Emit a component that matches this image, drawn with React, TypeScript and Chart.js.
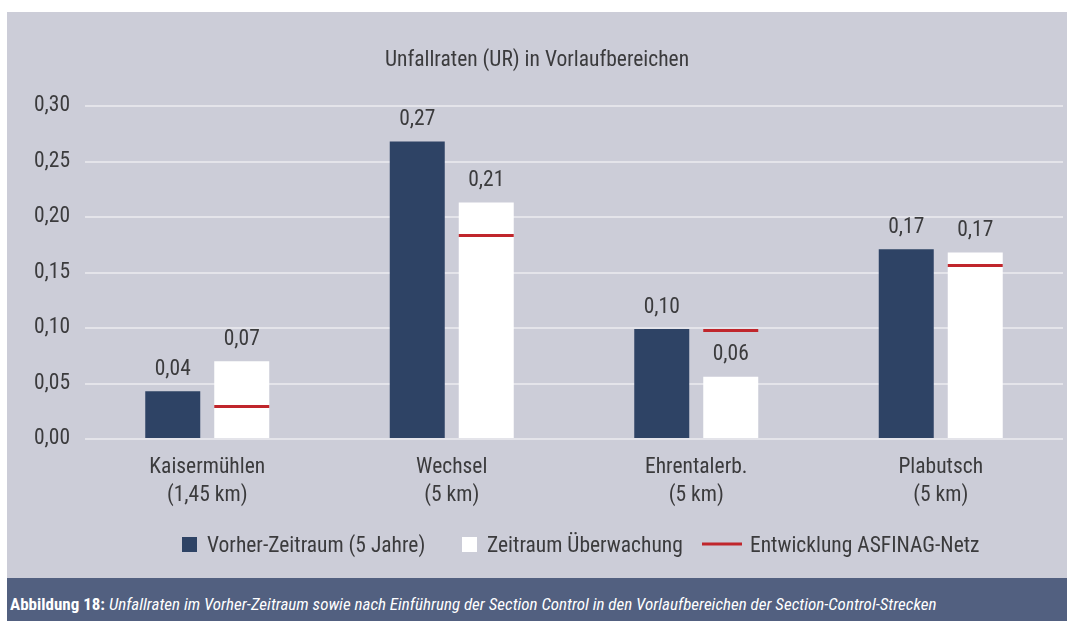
import React, { useEffect, useRef } from "react";
import { Chart, registerables } from "chart.js";

Chart.register(...registerables);

// ---- data ----
const categories: string[][] = [
  ["Kaisermühlen", "(1,45 km)"],
  ["Wechsel", "(5 km)"],
  ["Ehrentalerb.", "(5 km)"],
  ["Plabutsch", "(5 km)"],
];
const vorherZeitraum = [0.043, 0.268, 0.099, 0.171];
const zeitraumUeberwachung = [0.07, 0.213, 0.056, 0.168];
const entwicklungAsfinag = [0.03, 0.184, 0.098, 0.157];
const seriesNames = [
  "Vorher-Zeitraum (5 Jahre)",
  "Zeitraum Überwachung",
  "Entwicklung ASFINAG-Netz",
];
const yMin = 0;
const yMax = 0.3;
const yStep = 0.05;
const chartTitle = "Unfallraten (UR) in Vorlaufbereichen";
const captionBold = "Abbildung 18:";
const captionText =
  " Unfallraten im Vorher-Zeitraum sowie nach Einführung der Section Control in den Vorlaufbereichen der Section-Control-Strecken";

// ---- style ----
const FONT = "'Roboto Condensed', 'DejaVu Sans Condensed', sans-serif";
const FS = 21.5;
const TEXT = "#3b3b3d";
const DARK = "#2e4365";
const WHITE = "#ffffff";
const RED = "#c0262c";
const PANEL = "#cccdd8";
const BAND = "#526080";
const GRID = "#e4e4ea";

const fmt = (v: number) => v.toFixed(2).replace(".", ",");

const overlayPlugin = {
  id: "overlay",
  afterDatasetsDraw(chart: any) {
    const ctx = chart.ctx;
    const yScale = chart.scales.y;
    // red reference lines on the white bars
    const metaW = chart.getDatasetMeta(1);
    ctx.save();
    ctx.strokeStyle = RED;
    ctx.lineWidth = 3;
    metaW.data.forEach((bar: any, i: number) => {
      const y = Math.round(yScale.getPixelForValue(entwicklungAsfinag[i])) + 0.5;
      ctx.beginPath();
      ctx.moveTo(bar.x - bar.width / 2, y);
      ctx.lineTo(bar.x + bar.width / 2, y);
      ctx.stroke();
    });
    // value labels
    ctx.fillStyle = TEXT;
    ctx.font = `${FS}px ${FONT}`;
    ctx.textAlign = "center";
    ctx.textBaseline = "alphabetic";
    [0, 1].forEach((di) => {
      const meta = chart.getDatasetMeta(di);
      const vals = chart.data.datasets[di].data as number[];
      meta.data.forEach((bar: any, i: number) => {
        ctx.fillText(fmt(vals[i]), bar.x, bar.y - 16.5);
      });
    });
    ctx.restore();
  },
  afterDraw(chart: any) {
    const ctx = chart.ctx;
    const w = chart.width;
    ctx.save();
    // title
    ctx.fillStyle = TEXT;
    ctx.font = `${FS}px ${FONT}`;
    ctx.textAlign = "center";
    ctx.textBaseline = "alphabetic";
    ctx.fillText(chartTitle, w / 2, 54);
    // legend
    const baseY = 540;
    const items = [
      { x: 175, kind: "box", color: DARK },
      { x: 455, kind: "box", color: WHITE },
      { x: 695, kind: "line", color: RED },
    ];
    ctx.textAlign = "left";
    items.forEach((it, i) => {
      let tx;
      if (it.kind === "box") {
        ctx.fillStyle = it.color;
        ctx.fillRect(it.x, 525, 15, 15);
        tx = it.x + 25;
      } else {
        ctx.strokeStyle = it.color;
        ctx.lineWidth = 3;
        ctx.beginPath();
        ctx.moveTo(it.x, 532);
        ctx.lineTo(it.x + 40, 532);
        ctx.stroke();
        tx = it.x + 48;
      }
      ctx.fillStyle = TEXT;
      ctx.fillText(seriesNames[i], tx, baseY);
    });
    ctx.restore();
  },
};

export default function App() {
  const ref = useRef<HTMLCanvasElement | null>(null);

  useEffect(() => {
    if (!ref.current) return;
    const chart = new Chart(ref.current, {
      type: "bar",
      data: {
        labels: categories,
        datasets: [
          {
            label: seriesNames[0],
            data: vorherZeitraum,
            backgroundColor: DARK,
            borderWidth: 0,
            categoryPercentage: 0.5644,
            barPercentage: 0.797,
          },
          {
            label: seriesNames[1],
            data: zeitraumUeberwachung,
            backgroundColor: WHITE,
            borderWidth: 0,
            categoryPercentage: 0.5644,
            barPercentage: 0.797,
          },
        ],
      },
      options: {
        responsive: false,
        animation: false,
        devicePixelRatio: 1,
        layout: { padding: { top: 94, right: 4, left: 0, bottom: 0 } },
        plugins: {
          legend: { display: false },
          title: { display: false },
          tooltip: { enabled: false },
        },
        scales: {
          x: {
            grid: { display: false, drawTicks: false },
            border: { display: false },
            ticks: {
              color: TEXT,
              font: { family: FONT, size: FS, lineHeight: 1.3 },
              padding: 15,
              maxRotation: 0,
              autoSkip: false,
            },
            afterFit(scale: any) {
              scale.height = 139;
            },
          },
          y: {
            min: yMin,
            max: yMax,
            grid: { color: GRID, lineWidth: 2, drawTicks: false },
            border: { display: false },
            ticks: {
              stepSize: yStep,
              color: TEXT,
              font: { family: FONT, size: FS },
              padding: 15,
              callback: (v: any) => fmt(Number(v)),
            },
            afterFit(scale: any) {
              scale.width = 78;
            },
          },
        },
      },
      plugins: [overlayPlugin],
    } as any);
    return () => chart.destroy();
  }, []);

  return (
    <div style={{ position: "absolute", left: 0, top: 0, width: 1067, height: 621, background: "#ffffff", overflow: "hidden" }}>
      <div style={{ position: "absolute", left: 7, top: 12, width: 1060, height: 566, background: PANEL }}>
        <canvas ref={ref} width={1060} height={566} style={{ display: "block", width: 1060, height: 566 }} />
      </div>
      <div
        style={{
          position: "absolute",
          left: 7,
          top: 578,
          width: 1060,
          height: 43,
          background: BAND,
          color: "#ffffff",
          fontFamily: FONT,
          fontSize: 17,
          lineHeight: "20px",
          paddingTop: 16,
          paddingLeft: 3,
          boxSizing: "border-box",
          whiteSpace: "nowrap",
        }}
      >
        <b>{captionBold}</b>
        <i>{captionText}</i>
      </div>
    </div>
  );
}
